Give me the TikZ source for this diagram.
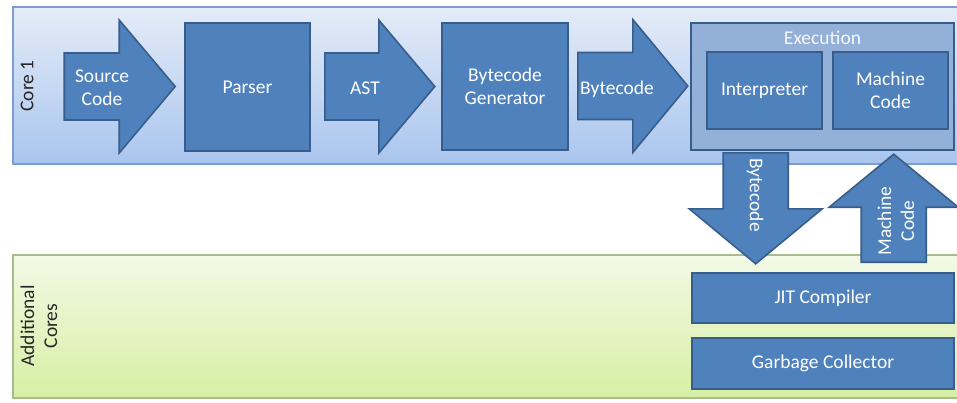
\documentclass[tikz,border=0pt]{standalone}
\usepackage{fontspec}
\setmainfont{Carlito}
\usetikzlibrary{%
  calc%
}
\definecolor{boxblue}{HTML}{4F81BD}
\definecolor{boxline}{HTML}{385D8A}
\definecolor{execblue}{HTML}{93B0D8}
\definecolor{coretop}{HTML}{E4ECF8}
\definecolor{corebot}{HTML}{A9C5EE}
\definecolor{coreline}{HTML}{7C9DCE}
\definecolor{greentop}{HTML}{F3F9E6}
\definecolor{greenbot}{HTML}{D6EFA3}
\definecolor{greenline}{HTML}{A8BD8C}
\tikzset{block/.style = {draw=boxline, fill=boxblue, line width=1.6pt,
    text=white, align=center, inner sep=0pt},%
  blockarrow/.style = {draw=boxline, fill=boxblue, line width=1.6pt, line join=miter},%
  lbl/.style = {text=white, align=center, inner sep=0pt},%
  panel/.style = {line width=1.4pt}}

\begin{document}
\begin{tikzpicture}[x=1pt,y=-1pt,font=\fontsize{19.5}{23}\selectfont]
  \useasboundingbox (0,0) rectangle (957,402);
  \clip (0,0) rectangle (957,402);
  % panels
  \draw[panel, draw=coreline, top color=coretop, bottom color=corebot] (13,7) rectangle (975,164);
  \draw[panel, draw=greenline, top color=greentop, bottom color=greenbot] (13,255) rectangle (975,398);
  \node[rotate=90, text=black!85] (core1) at (27,86) {Core 1};
  \node[rotate=90, text=black!85, align=center] (cores) at (39,326) {Additional\\Cores};
  % core 1 pipeline
  \node[block, minimum width=125pt, minimum height=128pt] (parser) at (247.5,87) {Parser};
  \node[block, minimum width=126pt, minimum height=127pt] (gen) at (505,86.5) {Bytecode\\Generator};
  \node[block, fill=execblue, minimum width=263pt, minimum height=127pt] (exec) at (822.5,86.5) {};
  \node[lbl, text=white!92!execblue] (exectitle) at (822.5,38) {Execution};
  \node[block, minimum width=115pt, minimum height=77pt] (interp) at (764.5,90.5) {Interpreter};
  \node[block, minimum width=115pt, minimum height=77pt] (mcode) at (890.5,90.5) {Machine\\Code};
  % additional cores
  \node[block, minimum width=262pt, minimum height=50pt] (jit) at (823,298) {JIT Compiler};
  \node[block, minimum width=262pt, minimum height=51pt] (gc) at (823,363.5) {Garbage Collector};
  % block arrows
  \draw[blockarrow] ($(parser.west)+(-120,-34)$) -- ++(55,0) -- ++(0,-33) -- ++(56,66.5)
    -- ++(-56,66.5) -- ++(0,-33) -- ++(-55,0) -- cycle;
  \node[lbl] (src) at (102,88) {Source\\Code};
  \draw[blockarrow] ($(parser.east)+(14,-34)$) -- ++(54,0) -- ++(0,-33) -- ++(56,66.5)
    -- ++(-56,66.5) -- ++(0,-33) -- ++(-54,0) -- cycle;
  \node[lbl] (ast) at (365,88) {AST};
  \draw[blockarrow] ($(gen.east)+(9,-34)$) -- ++(55,0) -- ++(0,-33) -- ++(55,66.5)
    -- ++(-55,66.5) -- ++(0,-33) -- ++(-55,0) -- cycle;
  \node[lbl] (bc) at (617,89) {Bytecode};
  \draw[blockarrow] ($(exec.south west)+(33,2)$) -- ++(65,0) -- ++(0,56) -- ++(34,0)
    -- ++(-66.5,55) -- ++(-66.5,-55) -- ++(34,0) -- cycle;
  \node[lbl, rotate=-90] (bcdown) at (755,195) {Bytecode};
  \draw[blockarrow] ($(jit.north west)+(170,-10)$) -- ++(0,-55) -- ++(-32,0) -- ++(64.5,-53)
    -- ++(64.5,53) -- ++(-32,0) -- ++(0,55) -- cycle;
  \node[lbl, rotate=90] (mcup) at (896,221) {Machine\\Code};
\end{tikzpicture}
\end{document}
